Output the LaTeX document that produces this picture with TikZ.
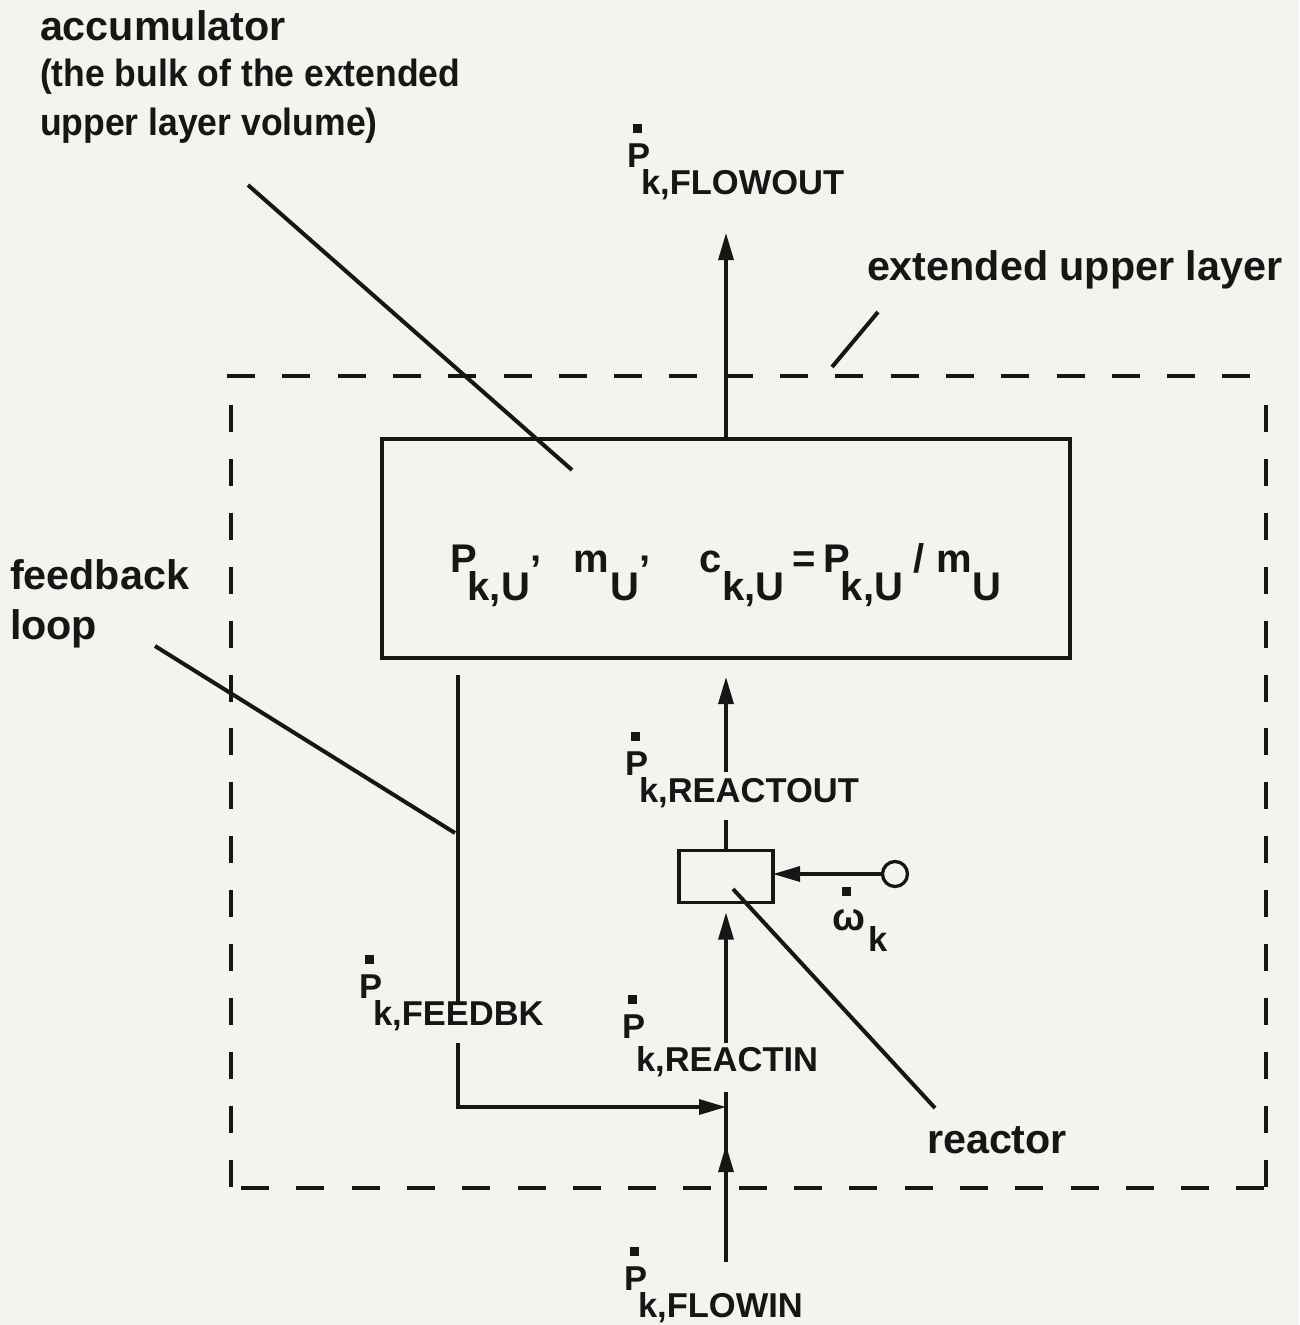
\documentclass[tikz,border=0pt]{standalone}
\usepackage{fontspec}
\setmainfont{Liberation Sans}
\usetikzlibrary{arrows.meta}
\definecolor{bg}{HTML}{F4F3EE}
\definecolor{ink}{HTML}{161616}
\newcommand\sqdot[2]{\rlap{\raisebox{#1}{\hspace{#2}\rule{0.26em}{0.26em}}}}
\newcommand\Pdot[2][0.8em]{\sqdot{0.99em}{0.18em}P\hspace{-0.26em}\raisebox{-#1}{#2}}
\newcommand\Psub[1]{P\hspace{-0.24em}\raisebox{-0.72em}{#1}}
\newcommand\Xsub[2]{#1\hspace{0.02em}\raisebox{-0.72em}{#2}}
\newcommand\apo{\hspace{0.02em}\raisebox{-0.28em}{’}}
\begin{document}
\begin{tikzpicture}[x=1pt,y=-1pt, line width=3.3pt, ink,
  every node/.style={inner sep=0pt, outer sep=0pt, text=ink},
  big/.style={font=\bfseries\fontsize{41.3}{48}\selectfont, anchor=base west},
  med/.style={font=\bfseries\fontsize{38}{46}\selectfont, anchor=base west},
  lab/.style={font=\bfseries\fontsize{34.5}{40}\selectfont, anchor=base west},
  arr/.style={-{Triangle[length=27pt,width=15pt]}},
  hbound/.style={dash pattern=on 28pt off 27.3pt},
  vbound/.style={dash pattern=on 27pt off 26.9pt},
  leader/.style={line width=4pt}]
\fill[bg] (0,0) rectangle (1299,1325);
\useasboundingbox (0,0) rectangle (1299,1325);

% extended upper layer boundary
\draw[hbound] (227,376) -- (1252,376);
\draw[vbound] (231,405) -- (231,1188);
\draw[vbound] (1266,405) -- (1266,1188);
\draw[hbound, dash phase=45.3pt] (231,1188) -- (1266,1188);

% accumulator box
\node[draw, minimum width=688pt, minimum height=219pt] (box) at (726,548.5) {};
\node[font=\bfseries\fontsize{40}{46}\selectfont, anchor=base] (boxtxt) at (726,572)
  {\Psub{k,U}\apo\hspace{0.8em}\Xsub{m}{U}\apo\hspace{1.2em}\Xsub{c}{k,U}\hspace{0.2em}=\hspace{0.2em}\Psub{k,U}\hspace{0.25em}/\hspace{0.3em}\Xsub{m}{U}};

% reactor and source
\node[draw, minimum width=94pt, minimum height=52pt] (rx) at (726,876.5) {};
\node[draw, circle, minimum size=25pt] (src) at (895,874) {};

% flows
\coordinate (fo) at (726,233);
\draw[arr] (box.north) -- (fo);

\coordinate (ro0) at (726,820);
\draw (rx.north) -- (ro0);
\coordinate (ro1) at (726,772);
\draw[arr, shorten >=19pt] (ro1) -- (box.south);

\coordinate (ri0) at (726,1043);
\draw[arr, shorten >=10pt] (ri0) -- (rx.south);

\coordinate (fi0) at (726,1262);
\coordinate (fi1) at (726,1092);
\coordinate (fitip) at (726,1145);
\draw (fi0) -- (fi1);
\draw[arr] (fi0) -- (fitip);

\coordinate (fb0) at (458,675);
\coordinate (fb1) at (458,1003);
\coordinate (fb2) at (458,1043);
\coordinate (jn) at (726,1107);
\draw (fb0) -- (fb1);
\draw[arr] (fb2) |- (jn);

\draw[arr] (src.west) -- (src.west -| rx.east);

% flow labels
\node[lab] (lfo) at (627,167) {\Pdot{k,FLOWOUT}};
\node[lab] (lro) at (625,775) {\Pdot{k,REACTOUT}};
\node[lab] (lri) at (622,1038) {\Pdot[0.98em]{k,REACTIN}};
\node[lab] (lfb) at (359,998) {\Pdot{k,FEEDBK}};
\node[lab] (lfi) at (624,1290) {\Pdot{k,FLOWIN}};
\node[lab] (lom) at (832,930) {\sqdot{0.98em}{0.3em}\makebox[1.05em][l]{\fontsize{39}{40}\selectfont ω}\raisebox{-0.62em}{k}};

% descriptive labels
\node[big] (tacc) at (40,40) {accumulator};
\node[med] (tacc2) at (40,86) {\scalebox{0.935}[1]{(the bulk of the extended}};
\node[med] (tacc3) at (40,135) {\scalebox{0.935}[1]{upper layer volume)}};
\node[big] (text) at (867,280) {extended upper layer};
\node[big] (tfb) at (10,589) {feedback};
\node[big] (tfb2) at (10,639) {loop};
\node[big] (trx) at (927,1153) {reactor};

% leader lines
\coordinate (la1) at (248,185); \coordinate (la2) at (572,470);
\coordinate (le1) at (878,312); \coordinate (le2) at (832,367);
\coordinate (lf1) at (155,646); \coordinate (lf2) at (455,833);
\coordinate (lr1) at (733,889); \coordinate (lr2) at (935,1108);
\draw[leader] (la1) -- (la2);
\draw[leader] (le1) -- (le2);
\draw[leader] (lf1) -- (lf2);
\draw[leader] (lr1) -- (lr2);
\end{tikzpicture}
\end{document}
